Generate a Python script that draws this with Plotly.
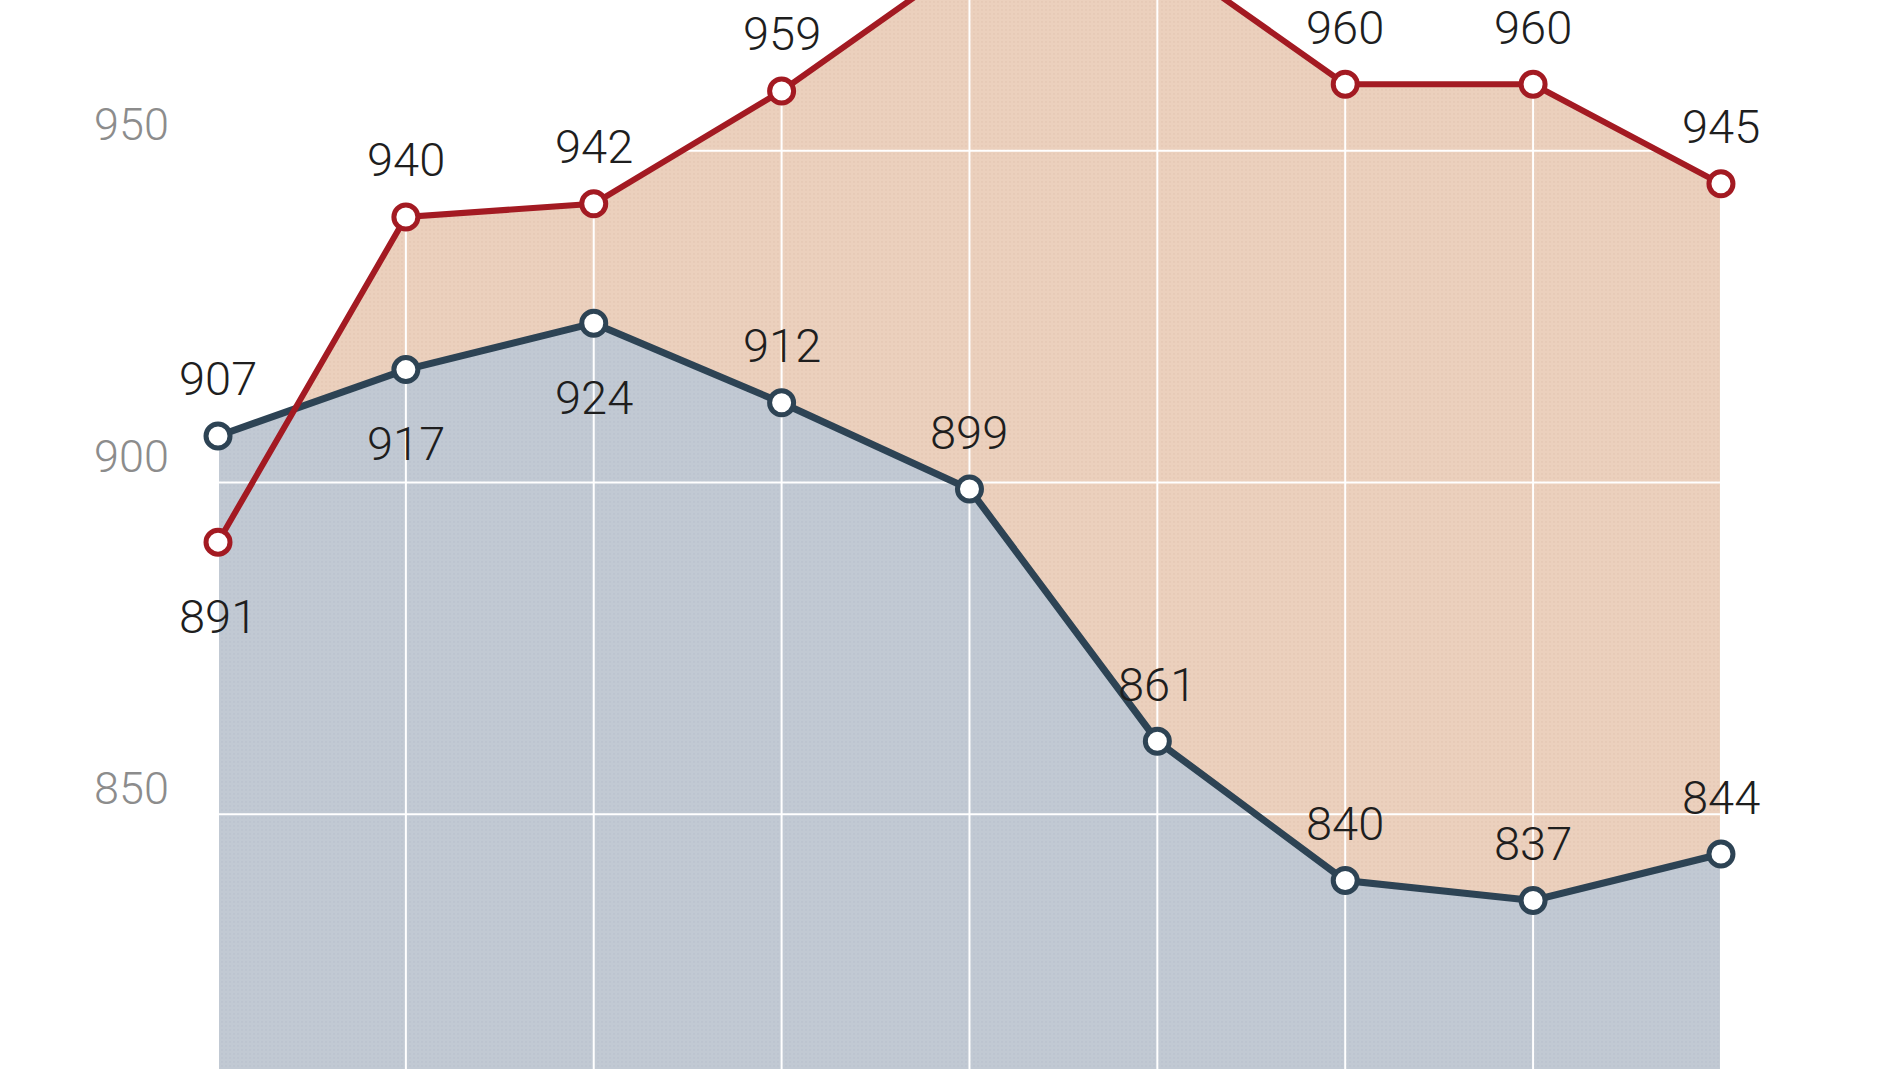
import plotly.graph_objects as go

# values; points 5 and 6 of the red series sit above the crop,
# estimated from the slope of the line where it leaves the frame
red_values = [891, 940, 942, 959, 979, 980, 960, 960, 945]
blue_values = [907, 917, 924, 912, 899, 861, 840, 837, 844]
ytick_values = [850, 900, 950]

# which side of the marker each value label sits on
red_label_side = ["below", "above", "above", "above", "above", "above", "above", "above", "above"]
blue_label_side = ["above", "below", "below", "above", "above", "above", "above", "above", "above"]

RED = "#a31a22"
NAVY = "#2d4354"
PEACH = "#ebd0bd"
SLATE = "#c1c9d3"
FONT_FAMILY = "Roboto, 'Open Sans', sans-serif"
LABEL_FONT = dict(family=FONT_FAMILY, size=47, color="#1e1e1e", weight=300)

Y_RANGE = [811.6, 972.7]
X_RANGE = [-0.2023, 8.953]

xs = list(range(len(red_values)))

fig = go.Figure()

# filled areas, red first so the slate area lies on top of it
fig.add_trace(go.Scatter(
    x=xs, y=red_values, mode="none", fill="tozeroy", fillcolor=PEACH,
    fillpattern=dict(shape=".", bgcolor=PEACH, fgcolor="#e2c4b0", size=4, solidity=0.25),
    hoverinfo="skip",
))
fig.add_trace(go.Scatter(
    x=xs, y=blue_values, mode="none", fill="tozeroy", fillcolor=SLATE,
    fillpattern=dict(shape=".", bgcolor=SLATE, fgcolor="#b7c0cb", size=4, solidity=0.25),
    hoverinfo="skip",
))

# white grid drawn over the fills but under the lines
gx, gy = [], []
for v in ytick_values:
    gx += [xs[0], xs[-1], None]
    gy += [v, v, None]
for x in xs:
    gx += [x, x, None]
    gy += [Y_RANGE[0], Y_RANGE[1], None]
fig.add_trace(go.Scatter(x=gx, y=gy, mode="lines", line=dict(color="white", width=2),
                         hoverinfo="skip"))

marker_common = dict(symbol="circle", size=24, color="white")
fig.add_trace(go.Scatter(
    x=xs, y=blue_values, mode="lines+markers",
    line=dict(color=NAVY, width=7),
    marker=dict(**marker_common, line=dict(color=NAVY, width=5)),
))
fig.add_trace(go.Scatter(
    x=xs, y=red_values, mode="lines+markers",
    line=dict(color=RED, width=6),
    marker=dict(**marker_common, line=dict(color=RED, width=5)),
))

annotations = []
for values, sides in ((red_values, red_label_side), (blue_values, blue_label_side)):
    for x, v, side in zip(xs, values, sides):
        annotations.append(dict(
            x=x, y=v, text=str(v), showarrow=False, font=LABEL_FONT,
            xanchor="center", yanchor="middle",
            yshift=57 if side == "above" else -74,
        ))

fig.update_layout(
    width=1900, height=1069,
    margin=dict(l=180, r=0, t=0, b=0),
    paper_bgcolor="white", plot_bgcolor="white",
    showlegend=False,
    annotations=annotations,
)
fig.update_xaxes(range=X_RANGE, showgrid=False, zeroline=False, showticklabels=False,
                 showline=False)
fig.update_yaxes(range=Y_RANGE, tickvals=ytick_values, showgrid=False, zeroline=False,
                 showline=False, ticks="", ticklabelstandoff=10, ticklabelshift=-26,
                 tickfont=dict(family=FONT_FAMILY, size=45, color="#8c8c8c", weight=300))

# drop the browser's default page margin so the figure sits flush in the window
fig.write_html("out.html", config={"displayModeBar": False},
               post_script="document.body.style.margin='0';")
